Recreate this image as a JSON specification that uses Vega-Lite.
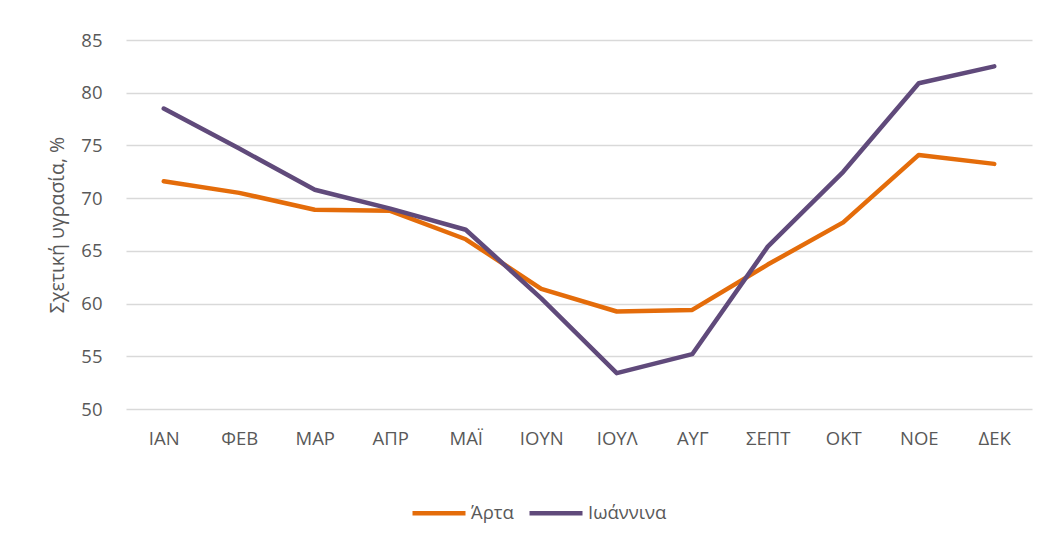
{
  "$schema": "https://vega.github.io/schema/vega-lite/v6.json",
  "autosize": {"type": "none"},
  "width": 906,
  "height": 369,
  "padding": {"left": 126, "top": 40, "right": 24, "bottom": 125},
  "background": "white",
  "config": {
    "view": {"stroke": null},
    "font": "Open Sans",
    "axis": {"labelColor": "#595959", "titleColor": "#595959", "labelFontSize": 18.5, "titleFontSize": 19.5, "titleFontWeight": "normal", "ticks": false, "tickSize": 0, "domain": false, "gridColor": "#D9D9D9", "gridWidth": 1.5},
    "legend": {"labelColor": "#595959", "labelFontSize": 18.5}
  },
  "data": {
    "values": [
      {"month": "ΙΑΝ", "city": "Άρτα", "rh": 71.6},
      {"month": "ΦΕΒ", "city": "Άρτα", "rh": 70.5},
      {"month": "ΜΑΡ", "city": "Άρτα", "rh": 68.9},
      {"month": "ΑΠΡ", "city": "Άρτα", "rh": 68.8},
      {"month": "ΜΑΪ", "city": "Άρτα", "rh": 66.1},
      {"month": "ΙΟΥΝ", "city": "Άρτα", "rh": 61.4},
      {"month": "ΙΟΥΛ", "city": "Άρτα", "rh": 59.25},
      {"month": "ΑΥΓ", "city": "Άρτα", "rh": 59.4},
      {"month": "ΣΕΠΤ", "city": "Άρτα", "rh": 63.7},
      {"month": "ΟΚΤ", "city": "Άρτα", "rh": 67.7},
      {"month": "ΝΟΕ", "city": "Άρτα", "rh": 74.1},
      {"month": "ΔΕΚ", "city": "Άρτα", "rh": 73.25},
      {"month": "ΙΑΝ", "city": "Ιωάννινα", "rh": 78.5},
      {"month": "ΦΕΒ", "city": "Ιωάννινα", "rh": 74.7},
      {"month": "ΜΑΡ", "city": "Ιωάννινα", "rh": 70.8},
      {"month": "ΑΠΡ", "city": "Ιωάννινα", "rh": 69.0},
      {"month": "ΜΑΪ", "city": "Ιωάννινα", "rh": 67.0},
      {"month": "ΙΟΥΝ", "city": "Ιωάννινα", "rh": 60.5},
      {"month": "ΙΟΥΛ", "city": "Ιωάννινα", "rh": 53.4},
      {"month": "ΑΥΓ", "city": "Ιωάννινα", "rh": 55.2},
      {"month": "ΣΕΠΤ", "city": "Ιωάννινα", "rh": 65.4},
      {"month": "ΟΚΤ", "city": "Ιωάννινα", "rh": 72.5},
      {"month": "ΝΟΕ", "city": "Ιωάννινα", "rh": 80.9},
      {"month": "ΔΕΚ", "city": "Ιωάννινα", "rh": 82.5}
    ]
  },
  "mark": {"type": "line", "strokeWidth": 4.5, "strokeCap": "round", "strokeJoin": "round"},
  "encoding": {
    "x": {
      "field": "month", "type": "nominal",
      "sort": ["ΙΑΝ", "ΦΕΒ", "ΜΑΡ", "ΑΠΡ", "ΜΑΪ", "ΙΟΥΝ", "ΙΟΥΛ", "ΑΥΓ", "ΣΕΠΤ", "ΟΚΤ", "ΝΟΕ", "ΔΕΚ"],
      "scale": {"type": "point", "padding": 0.5},
      "axis": {"title": null, "labelAngle": 0, "labelPadding": 20, "grid": false}
    },
    "y": {
      "field": "rh", "type": "quantitative",
      "scale": {"domain": [50, 85], "nice": false, "zero": false},
      "axis": {"title": "Σχετική υγρασία, %", "values": [50, 55, 60, 65, 70, 75, 80, 85], "labelPadding": 24, "titlePadding": 13}
    },
    "color": {
      "field": "city", "type": "nominal",
      "scale": {"domain": ["Άρτα", "Ιωάννινα"], "range": ["#E46C0A", "#604A7B"]},
      "legend": {"title": null, "orient": "none", "direction": "horizontal", "legendX": 284, "legendY": 444, "symbolSize": 2809, "symbolStrokeWidth": 4.5, "labelOffset": 3, "columnPadding": 6}
    }
  }
}
